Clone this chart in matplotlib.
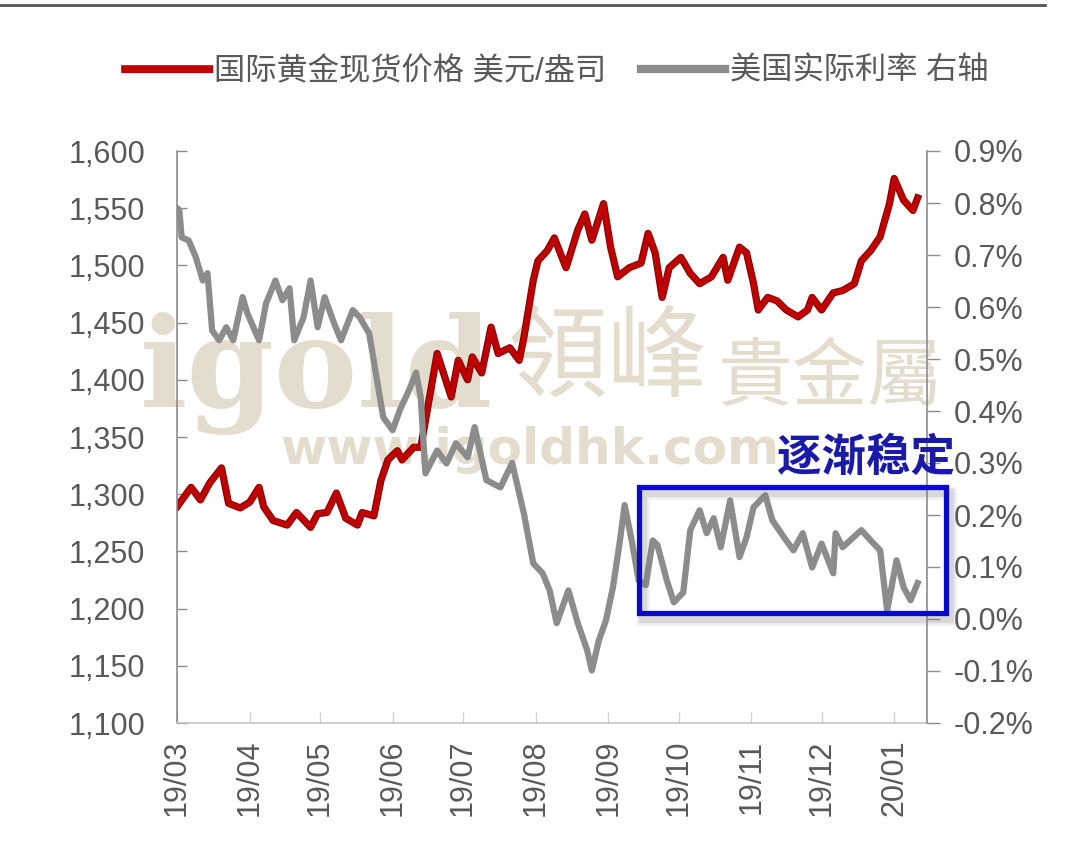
import pandas as pd
import matplotlib
matplotlib.use('Agg')
import matplotlib.pyplot as plt
import matplotlib.dates as mdates
import matplotlib.patheffects as pe
import matplotlib.transforms as mtransforms
from matplotlib.patches import Rectangle
from matplotlib.lines import Line2D
from matplotlib.ticker import FuncFormatter, MultipleLocator

# Gold spot price, USD/oz (left axis)
gold_dates = [
    '2019-03-01', '2019-03-07', '2019-03-11', '2019-03-15', '2019-03-20', '2019-03-23',
    '2019-03-28', '2019-04-01', '2019-04-05', '2019-04-07', '2019-04-11', '2019-04-17',
    '2019-04-21', '2019-04-27', '2019-04-30', '2019-05-04', '2019-05-08', '2019-05-12',
    '2019-05-17', '2019-05-19', '2019-05-24', '2019-05-27', '2019-05-30', '2019-06-03',
    '2019-06-05', '2019-06-10', '2019-06-13', '2019-06-16', '2019-06-20', '2019-06-26',
    '2019-06-29', '2019-07-03', '2019-07-05', '2019-07-09', '2019-07-13', '2019-07-16',
    '2019-07-21', '2019-07-25', '2019-07-27', '2019-07-31', '2019-08-02', '2019-08-06',
    '2019-08-09', '2019-08-14', '2019-08-19', '2019-08-22', '2019-08-25', '2019-08-30',
    '2019-09-02', '2019-09-05', '2019-09-10', '2019-09-15', '2019-09-18', '2019-09-21',
    '2019-09-24', '2019-09-27', '2019-10-02', '2019-10-06', '2019-10-10', '2019-10-15',
    '2019-10-20', '2019-10-22', '2019-10-27', '2019-10-30', '2019-11-02', '2019-11-04',
    '2019-11-08', '2019-11-12', '2019-11-16', '2019-11-21', '2019-11-25', '2019-11-27',
    '2019-12-01', '2019-12-06', '2019-12-10', '2019-12-15', '2019-12-18', '2019-12-22',
    '2019-12-26', '2019-12-30', '2020-01-01', '2020-01-05', '2020-01-09', '2020-01-11',
]
gold_price = [
    1289, 1306, 1295, 1310, 1323, 1292,
    1288, 1293, 1306, 1289, 1277, 1273,
    1284, 1271, 1283, 1284, 1301, 1279,
    1273, 1284, 1281, 1312, 1330, 1338,
    1330, 1341, 1341, 1376, 1423, 1385,
    1417, 1400, 1420, 1406, 1446, 1423,
    1428, 1417, 1437, 1487, 1504, 1513,
    1524, 1498, 1531, 1545, 1522, 1554,
    1516, 1490, 1498, 1502, 1528, 1511,
    1472, 1498, 1507, 1493, 1484, 1490,
    1507, 1487, 1516, 1511, 1484, 1461,
    1472, 1469, 1461, 1455, 1461, 1472,
    1461, 1476, 1478, 1484, 1504, 1513,
    1525, 1554, 1576, 1557, 1548, 1559,
]

# US real interest rate, % (right axis)
rate_dates = [
    '2019-03-01', '2019-03-02', '2019-03-03', '2019-03-06', '2019-03-09', '2019-03-12',
    '2019-03-14', '2019-03-16', '2019-03-19', '2019-03-22', '2019-03-25', '2019-03-29',
    '2019-03-31', '2019-04-05', '2019-04-08', '2019-04-12', '2019-04-15', '2019-04-18',
    '2019-04-20', '2019-04-24', '2019-04-27', '2019-04-30', '2019-05-03', '2019-05-07',
    '2019-05-10', '2019-05-15', '2019-05-18', '2019-05-22', '2019-05-28', '2019-06-01',
    '2019-06-04', '2019-06-08', '2019-06-11', '2019-06-13', '2019-06-15', '2019-06-20',
    '2019-06-24', '2019-06-28', '2019-07-03', '2019-07-06', '2019-07-11', '2019-07-17',
    '2019-07-22', '2019-07-27', '2019-07-31', '2019-08-04', '2019-08-07', '2019-08-10',
    '2019-08-15', '2019-08-19', '2019-08-23', '2019-08-25', '2019-08-28', '2019-08-31',
    '2019-09-03', '2019-09-06', '2019-09-08', '2019-09-11', '2019-09-14', '2019-09-17',
    '2019-09-20', '2019-09-22', '2019-09-26', '2019-09-29', '2019-10-03', '2019-10-06',
    '2019-10-10', '2019-10-13', '2019-10-16', '2019-10-19', '2019-10-23', '2019-10-27',
    '2019-10-30', '2019-11-02', '2019-11-07', '2019-11-10', '2019-11-15', '2019-11-19',
    '2019-11-23', '2019-11-27', '2019-12-01', '2019-12-06', '2019-12-07', '2019-12-10',
    '2019-12-18', '2019-12-22', '2019-12-26', '2019-12-29', '2020-01-02', '2020-01-05',
    '2020-01-08', '2020-01-11',
]
rate_pct = [
    0.790, 0.786, 0.734, 0.728, 0.696, 0.651,
    0.665, 0.555, 0.536, 0.561, 0.536, 0.619,
    0.588, 0.536, 0.607, 0.651, 0.613, 0.636,
    0.536, 0.580, 0.651, 0.561, 0.619, 0.569,
    0.536, 0.594, 0.580, 0.549, 0.388, 0.363,
    0.401, 0.440, 0.474, 0.426, 0.280, 0.324,
    0.299, 0.338, 0.311, 0.369, 0.267, 0.253,
    0.300, 0.203, 0.107, 0.088, 0.055, -0.008,
    0.055, -0.008, -0.060, -0.099, -0.041, -0.003,
    0.061, 0.151, 0.219, 0.151, 0.074, 0.065,
    0.151, 0.142, 0.074, 0.032, 0.051, 0.171,
    0.209, 0.165, 0.194, 0.138, 0.228, 0.119,
    0.157, 0.215, 0.238, 0.190, 0.157, 0.132,
    0.165, 0.099, 0.145, 0.088, 0.165, 0.138,
    0.171, 0.151, 0.132, 0.016, 0.113, 0.061,
    0.036, 0.069,
]

gold_label = '国际黄金现货价格 美元/盎司'
rate_label = '美国实际利率 右轴'
note_text = '逐渐稳定'

# highlighted window and where the note sits
box_dates = ('2019-09-14', '2020-01-23')
box_rates = (0.011, 0.253)
note_pos = ('2019-12-20', 0.311)

plt.rcParams['font.family'] = ['Liberation Sans', 'Noto Sans CJK SC', 'DejaVu Sans']
txt_color = '#595959'
red = '#c00000'
grey = '#8c8c8c'

fig = plt.figure(figsize=(10.88, 8.55), dpi=100)
ax = fig.add_axes([177 / 1088, 1 - 723 / 855, 750 / 1088, 572 / 855])
ax.patch.set_visible(False)
ax2 = ax.twinx()

# watermark, behind everything
wm = '#e4ddce'
fig.text(140 / 1088, 1 - 407 / 855, 'igold', fontsize=90, family='DejaVu Serif',
         weight='bold', color=wm, va='baseline', ha='left', zorder=-5)
fig.text(508 / 1088, 1 - 360 / 855, '領峰', fontsize=72, family='Noto Sans CJK TC',
         color=wm, va='center', ha='left', zorder=-5)
fig.text(718 / 1088, 1 - 378 / 855, '貴金屬', fontsize=54, family='Noto Sans CJK TC',
         color=wm, va='center', ha='left', zorder=-5)
fig.text(530 / 1088, 1 - 450 / 855, 'www.igoldhk.com', fontsize=36, family='DejaVu Sans',
         weight='bold', color=wm, va='center', ha='center', zorder=-5)

red_fx = [pe.Stroke(linewidth=5.2, foreground='#8a0000'), pe.Normal()]
ax.plot(pd.to_datetime(gold_dates), gold_price, color=red, lw=3.6,
        solid_joinstyle='round', path_effects=red_fx)
ax2.plot(pd.to_datetime(rate_dates), rate_pct, color=grey, lw=4.5,
         solid_joinstyle='round')

ax.set_xlim(pd.Timestamp('2019-03-01'), pd.Timestamp('2020-01-15'))
ax.set_ylim(1100, 1600)
ax2.set_ylim(-0.2, 0.9)

ax.yaxis.set_major_locator(MultipleLocator(50))
ax.yaxis.set_major_formatter(FuncFormatter(lambda v, p: f'{v:,.0f}'))
ax2.yaxis.set_major_locator(MultipleLocator(0.1))
ax2.yaxis.set_major_formatter(FuncFormatter(lambda v, p: f'{v + 0.0:.1f}%'.replace('-0.0%', '0.0%')))
ax.xaxis.set_major_locator(mdates.MonthLocator())
ax.xaxis.set_major_formatter(mdates.DateFormatter('%y/%m'))

for a in (ax, ax2):
    for s in a.spines.values():
        s.set_color('#8c8c8c')
        s.set_linewidth(1.2)
    a.spines['top'].set_visible(False)
ax.spines['right'].set_visible(False)
ax2.spines['left'].set_visible(False)
ax2.spines['bottom'].set_visible(False)
ax.spines['bottom'].set_color('#c4c4c4')

ax.tick_params(axis='y', direction='in', length=7, width=1, color='#8c8c8c',
               labelsize=22, labelcolor=txt_color, pad=23)
ax.tick_params(axis='x', direction='in', length=8, width=1, color='#cfcfcf',
               labelsize=22, labelcolor=txt_color, pad=12, labelrotation=90)
ax2.tick_params(axis='y', direction='out', length=9, width=1, color='#8c8c8c',
                labelsize=22, labelcolor=txt_color, pad=10)

# highlight box with a soft drop shadow
x0, x1 = mdates.date2num(pd.to_datetime(box_dates))
shadow_tr = mtransforms.offset_copy(ax2.transData, fig=fig, x=4, y=-6, units='dots')
for lw, alpha in [(9, 0.12), (6, 0.18)]:
    ax2.add_patch(Rectangle((x0, box_rates[0]), x1 - x0, box_rates[1] - box_rates[0],
                            transform=shadow_tr, fill=False, ec='#777777', lw=lw,
                            alpha=alpha, clip_on=False, zorder=5))
ax2.add_patch(Rectangle((x0, box_rates[0]), x1 - x0, box_rates[1] - box_rates[0],
                        transform=ax2.transData, fill=False, ec='#0a0ac8', lw=3.8,
                        clip_on=False, zorder=6))
ax2.text(pd.Timestamp(note_pos[0]), note_pos[1], note_text, fontsize=32,
         family='Noto Sans CJK SC', weight='bold', color='#1a1aa8',
         ha='center', va='center', clip_on=False, zorder=7)

handles = [Line2D([], [], color=red, lw=5.5, path_effects=red_fx, label=gold_label),
           Line2D([], [], color=grey, lw=6, label=rate_label)]
fig.legend(handles=handles, loc='center left', bbox_to_anchor=(125 / 1088, 1 - 72 / 855),
           ncol=2, frameon=False, fontsize=22.5, labelcolor=txt_color,
           handlelength=2.7, handletextpad=0.15, columnspacing=1.1,
           borderpad=0, borderaxespad=0)

fig.add_artist(Line2D([0, 1045 / 1088], [1 - 5 / 855, 1 - 5 / 855],
                      transform=fig.transFigure, color='#555555', lw=2))

fig.savefig('out.png', dpi=100)
